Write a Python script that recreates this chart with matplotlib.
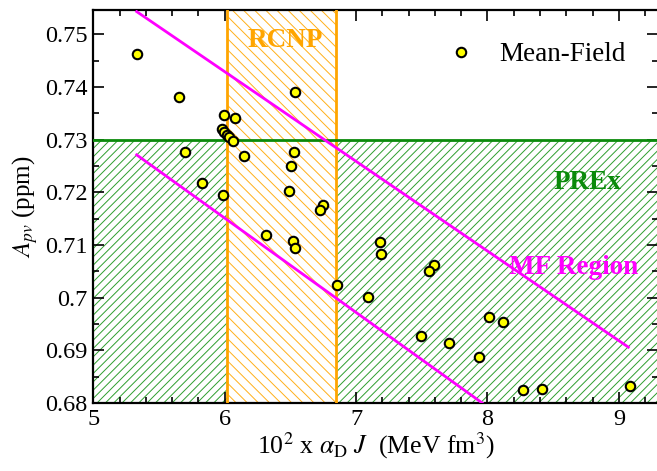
import matplotlib
matplotlib.use("Agg")
import matplotlib.pyplot as plt

plt.rcParams['font.family'] = ['Liberation Serif', 'DejaVu Serif']
plt.rcParams['mathtext.fontset'] = 'stix'
plt.rcParams['hatch.linewidth'] = 0.7

# mean-field models: x = 10^2 alpha_D J, y = A_pv (ppm)
mf_x = [5.330, 5.654, 5.997, 6.076, 5.982, 5.997, 6.015, 6.030, 6.061,
        5.696, 6.535, 6.530, 6.149, 6.507, 5.827, 6.489, 5.987, 6.750,
        6.728, 6.317, 6.518, 6.537, 6.855, 7.180, 7.189, 7.591, 7.555,
        7.091, 8.014, 8.120, 7.492, 7.705, 7.933, 8.272, 8.415, 9.085]
mf_y = [0.7462, 0.7380, 0.7347, 0.7341, 0.7321, 0.7315, 0.7309, 0.7304, 0.7298,
        0.7276, 0.7390, 0.7276, 0.7269, 0.7250, 0.7217, 0.7202, 0.7194, 0.7176,
        0.7166, 0.7119, 0.7107, 0.7094, 0.7024, 0.7106, 0.7083, 0.7062, 0.7050,
        0.7002, 0.6964, 0.6953, 0.6928, 0.6914, 0.6887, 0.6825, 0.6826, 0.6833]

# MF region boundaries
upper_x = [5.330, 9.072]
upper_y = [0.7543, 0.6906]
lower_x = [5.330, 7.960]
lower_y = [0.7271, 0.6800]

# experimental constraints
rcnp = [6.02, 6.845]
prex_max = 0.730

xlim = (5.0, 9.3)
ylim = (0.68, 0.7546)

fig = plt.figure(figsize=(6.57, 4.71), dpi=100)
ax = fig.add_axes([93.3 / 657, 68 / 471, (658.3 - 93.3) / 657, (403 - 10) / 471])

green = '#0a8a0a'
orange = '#ffa500'
magenta = '#ff00ff'

ax.fill_between(xlim, ylim[0], prex_max, facecolor='none', edgecolor='#2e9e2e',
                hatch='////', linewidth=0, zorder=1)
ax.fill_between(rcnp, ylim[0], ylim[1], facecolor='white', edgecolor='#ffb01a',
                hatch='\\\\\\', linewidth=0, zorder=2)
ax.axvline(rcnp[0], color=orange, lw=2, zorder=3)
ax.axvline(rcnp[1], color=orange, lw=2, zorder=3)
ax.axhline(prex_max, color=green, lw=2, zorder=3)

ax.plot(upper_x, upper_y, color=magenta, lw=2, zorder=4)
ax.plot(lower_x, lower_y, color=magenta, lw=2, zorder=4)

ax.plot(mf_x, mf_y, 'o', ms=6.8, mfc='#ffff00', mec='black', mew=1.5,
        zorder=5, label='Mean-Field')

ax.text(6.459, 0.7494, 'RCNP', color=orange, fontsize=19.5, fontweight='bold',
        ha='center', va='center_baseline', zorder=6)
ax.text(8.76, 0.7224, 'PREx', color=green, fontsize=19.5, fontweight='bold',
        ha='center', va='center_baseline', zorder=6)
ax.text(8.655, 0.7063, 'MF Region', color=magenta, fontsize=19.5, fontweight='bold',
        ha='center', va='center_baseline', zorder=6)

leg = ax.legend(loc='upper right', bbox_to_anchor=(0.985, 0.98), frameon=False,
                fontsize=19.5, handlelength=1.0, handletextpad=0.9, numpoints=1)

ax.set_xlim(xlim)
ax.set_ylim(ylim)
ax.set_xticks([5, 6, 7, 8, 9])
ax.set_xticklabels(['5', '6', '7', '8', '9'])
ax.set_yticks([0.68, 0.69, 0.70, 0.71, 0.72, 0.73, 0.74, 0.75])
ax.set_yticklabels(['0.68', '0.69', '0.7', '0.71', '0.72', '0.73', '0.74', '0.75'])
ax.xaxis.set_minor_locator(matplotlib.ticker.MultipleLocator(0.2))
ax.yaxis.set_minor_locator(matplotlib.ticker.MultipleLocator(0.005))
ax.tick_params(which='both', direction='in', top=True, right=True, width=1.2)
ax.tick_params(which='major', length=8, labelsize=17.5, pad=4)
ax.tick_params(which='minor', length=4)
for s in ax.spines.values():
    s.set_linewidth(1.6)

ax.set_xlabel(r'10$^2$ x $\alpha_{\rm D}$ $J$  (MeV fm$^3$)', fontsize=18.5, labelpad=1)
ax.set_ylabel(r'$A_{pv}$ (ppm)', fontsize=18, labelpad=4)

fig.savefig('out.png', dpi=100)
